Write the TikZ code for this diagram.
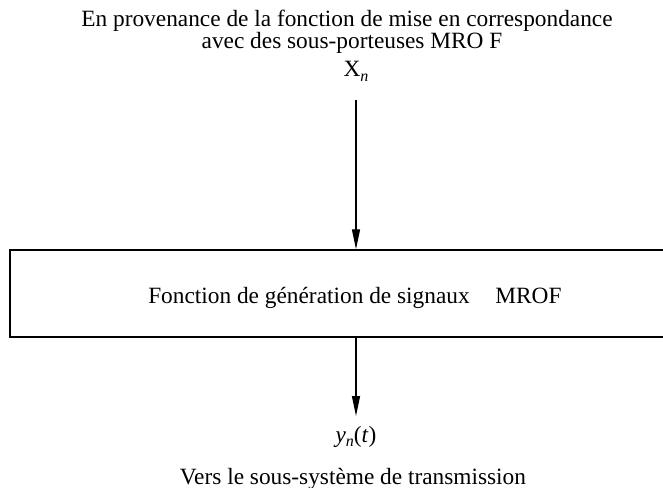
\documentclass[tikz,border=0pt]{standalone}
\usepackage{fontspec}
\setmainfont{Liberation Serif}
\usetikzlibrary{arrows.meta}
\tikzstyle{arrow} = [line width=1pt,-{Triangle[length=15pt,width=6pt]}]
\tikzstyle{box} = [draw,line width=1.3pt,minimum width=495pt,minimum height=65pt,inner sep=0pt]
\newcommand{\lowsub}[1]{\raisebox{-0.45ex}{\fontsize{12}{14}\selectfont\textit{#1}}}

\begin{document}
\begin{tikzpicture}[x=0.75pt,y=-0.75pt,font=\fontsize{17.5}{21}\selectfont]
            \useasboundingbox (0,0) rectangle (663,488);
            \node[anchor=base,inner sep=0pt] (src1) at (347,27) {En provenance de la fonction de mise en correspondance};
            \node[anchor=base,inner sep=0pt] (src2) at (352,49) {avec des sous-porteuses MRO F};
            \node[anchor=base,inner sep=0pt] (xn) at (356,77) {X\lowsub{n}};
            \node[box] (gen) at (340,293.5) {};
            \node[anchor=base west,inner sep=0pt] (genlbl) at (148,303) {Fonction de génération de signaux\hspace{1.1em}MROF};
            \coordinate (xin) at (356,100);
            \coordinate (yout) at (356,416);
            \node[anchor=base,inner sep=0pt] (yn) at (356,442) {\textit{y}\lowsub{n}(\textit{t})};
            \node[anchor=base,inner sep=0pt] (dst) at (353,484) {Vers le sous-système de transmission};
            \draw [arrow] (xin) -- (xin |- gen.north);
            \draw [arrow] (xin |- gen.south) -- (yout);
        \end{tikzpicture}
\end{document}
